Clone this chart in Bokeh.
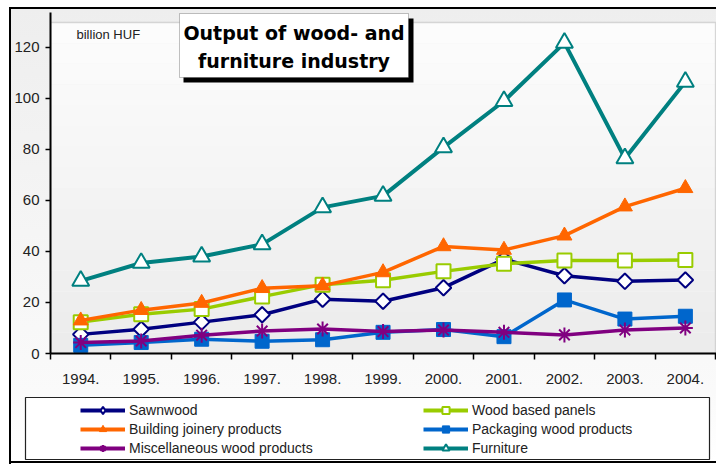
import math
from bokeh.plotting import figure
from bokeh.layouts import column, row
from bokeh.models import (Range1d, LinearAxis, FixedTicker, Legend, LegendItem,
                          Label, BoxAnnotation, Spacer)
from bokeh.embed import file_html
from bokeh.resources import INLINE

# ---- data ----
years = ["1994.", "1995.", "1996.", "1997.", "1998.", "1999.", "2000.", "2001.", "2002.", "2003.", "2004."]
sawnwood = [7.5, 9.5, 12.3, 15.2, 21.3, 20.5, 25.8, 37.0, 30.5, 28.3, 28.8]
wood_panels = [12.3, 15.4, 17.4, 22.3, 27.0, 28.7, 32.2, 35.2, 36.5, 36.5, 36.7]
building_joinery = [12.9, 17.0, 19.8, 25.6, 26.6, 31.8, 42.0, 40.6, 46.2, 57.6, 64.8]
packaging = [3.2, 4.3, 5.6, 4.8, 5.4, 8.3, 9.4, 6.6, 21.0, 13.5, 14.6]
misc = [4.3, 4.9, 7.2, 8.8, 9.6, 8.6, 9.2, 8.3, 7.3, 9.2, 10.0]
furniture = [28.5, 35.5, 38.0, 42.8, 57.3, 61.8, 80.8, 99.0, 121.8, 76.5, 106.5]
y_ticks = [0, 20, 40, 60, 80, 100, 120]
unit_label = "billion HUF"
title_lines = ["Output of wood- and", "furniture industry"]

x = list(range(len(years)))
FONT = "Liberation Sans"
PLOT_TOP = 129.8

# ---- main chart ----
p = figure(width=705, height=383, output_backend="svg", toolbar_location=None,
           x_range=Range1d(-0.5, len(years) - 0.485), y_range=Range1d(0, 133.7),
           min_border_left=37, min_border_right=0, min_border_top=3, min_border_bottom=39,
           x_axis_type=None, y_axis_type=None)
p.background_fill_alpha = 0
p.border_fill_alpha = 0
p.outline_line_color = None
p.styles = {"background": "linear-gradient(#EEEEEE, #FAFAFA)"}

# plot-area gradient bands
n_bands = 16
for i in range(n_bands):
    lo = PLOT_TOP * i / n_bands
    hi = PLOT_TOP * (i + 1) / n_bands
    g = int(236 + (253 - 236) * (i + 0.5) / n_bands)
    p.add_layout(BoxAnnotation(bottom=lo, top=hi, left=-0.5, right=len(years) - 0.5,
                               fill_color=(g, g, g), fill_alpha=1.0,
                               line_alpha=0, level="underlay"))
p.add_layout(BoxAnnotation(bottom=0, top=PLOT_TOP, left=-0.5, right=len(years) - 0.5,
                           fill_alpha=0, line_color="#8C8C8C", line_width=1.5, level="underlay"))

# axes
xaxis = LinearAxis(ticker=FixedTicker(ticks=x, minor_ticks=[i - 0.5 for i in range(len(years) + 1)]))
xaxis.major_label_overrides = {i: years[i] for i in x}
xaxis.major_tick_line_color = None
xaxis.major_tick_out = 6
xaxis.major_tick_in = 0
xaxis.minor_tick_line_color = "black"
xaxis.minor_tick_out = 6
xaxis.minor_tick_in = 0
xaxis.minor_tick_line_width = 1.5
xaxis.axis_line_color = "black"
xaxis.axis_line_width = 2
xaxis.major_label_standoff = 14
xaxis.major_label_text_font = FONT
xaxis.major_label_text_font_size = "15px"
xaxis.major_label_text_color = "#222222"
p.add_layout(xaxis, "below")

yaxis = LinearAxis(ticker=FixedTicker(ticks=y_ticks, minor_ticks=[]))
yaxis.major_tick_out = 5
yaxis.major_tick_in = 0
yaxis.major_tick_line_width = 1.5
yaxis.axis_line_color = "black"
yaxis.axis_line_width = 2
yaxis.major_label_standoff = 6
yaxis.major_label_text_font = FONT
yaxis.major_label_text_font_size = "15px"
yaxis.major_label_text_color = "#222222"
p.add_layout(yaxis, "left")

p.ygrid.ticker = FixedTicker(ticks=y_ticks[1:])
p.ygrid.grid_line_color = "#333333"
p.ygrid.grid_line_dash = "7 5"
p.ygrid.grid_line_width = 1
p.xgrid.grid_line_color = None

# series: name, values, colour, marker, fill, size, angle, line width, marker line width
series = [
    ("Sawnwood", sawnwood, "#000080", "square", "white", 11, math.pi / 4, 3.5, 2),
    ("Wood based panels", wood_panels, "#99CC00", "square", "white", 14, 0, 3.5, 2),
    ("Building joinery products", building_joinery, "#FF6600", "triangle", "#FF6600", 15, 0, 3.5, 1),
    ("Packaging wood products", packaging, "#0066CC", "square", "#0066CC", 14, 0, 3.5, 1),
    ("Miscellaneous wood products", misc, "#800080", "asterisk", None, 15, 0, 3.5, 2),
    ("Furniture", furniture, "#008080", "triangle", "white", 17, 0, 4, 2),
]
for name, vals, col, mk, fill, size, ang, lw, mlw in series:
    p.line(x, vals, line_color=col, line_width=lw)
    p.scatter(x, vals, marker=mk, size=size, angle=ang, line_color=col,
              fill_color=fill if fill else None, line_width=mlw)

# unit label
p.add_layout(Label(x=65, y=25, x_units="canvas", y_units="canvas", text=unit_label,
                   text_font=FONT, text_font_size="13px", text_color="#222222",
                   text_baseline="middle", text_align="left"))

# title box with shadow
p.add_layout(BoxAnnotation(left=172, right=402, top=9, bottom=73,
                           left_units="canvas", right_units="canvas",
                           top_units="canvas", bottom_units="canvas",
                           fill_color="black", fill_alpha=1, line_alpha=0, level="overlay"))
p.add_layout(BoxAnnotation(left=168, right=397, top=4, bottom=68,
                           left_units="canvas", right_units="canvas",
                           top_units="canvas", bottom_units="canvas",
                           fill_color="white", fill_alpha=1, line_color="#333333",
                           line_width=1, level="overlay"))
for i, t in enumerate(title_lines):
    p.add_layout(Label(x=282.5, y=23 + i * 28, x_units="canvas", y_units="canvas", text=t,
                       text_font="DejaVu Sans", text_font_style="bold", text_font_size="19px",
                       text_color="black", text_align="center", text_baseline="middle",
                       level="overlay"))

# ---- legend panel ----
lf = figure(width=705, height=69, output_backend="svg", toolbar_location=None,
            x_range=Range1d(-10, -9), y_range=Range1d(-10, -9),
            min_border_left=14, min_border_right=7, min_border_top=5, min_border_bottom=2,
            x_axis_type=None, y_axis_type=None)
lf.xgrid.grid_line_color = None
lf.ygrid.grid_line_color = None
lf.background_fill_color = "white"
lf.border_fill_alpha = 0
lf.styles = {"background": "linear-gradient(#FAFAFA, #FFFFFF)"}
lf.outline_line_color = "#222222"
lf.outline_line_width = 1.2

leg_items = {}
for name, vals, col, mk, fill, size, ang, lw, mlw in series:
    r1 = lf.line(x, vals, line_color=col, line_width=4)
    r2 = lf.scatter(x, vals, marker="diamond" if ang else mk, size=size, line_color=col,
                    fill_color=fill if fill else None, line_width=mlw)
    leg_items[name] = LegendItem(label=name, renderers=[r1, r2], index=0)

# legend fills column by column: left column then right column
order = ["Sawnwood", "Building joinery products", "Miscellaneous wood products",
         "Wood based panels", "Packaging wood products", "Furniture"]
legend = Legend(items=[leg_items[n] for n in order], ncols=2, location=(55, 2),
                glyph_width=45, glyph_height=18, label_height=18, label_width=293,
                label_standoff=4, spacing=1, padding=0, margin=0,
                border_line_alpha=0, background_fill_alpha=0,
                label_text_font=FONT, label_text_font_size="14px",
                label_text_color="#222222")
lf.add_layout(legend, "center")

# ---- frame assembly (outer black border on left, top, bottom) ----
black = {"background-color": "black"}
content = column(Spacer(width=705, height=2, styles=black), p, column(lf),
                 Spacer(width=705, height=2, styles=black))
root = column(Spacer(width=716, height=7),
              row(Spacer(width=9, height=457), Spacer(width=2, height=457, styles=black), content))

open("out.html", "w").write(file_html(root, INLINE))
